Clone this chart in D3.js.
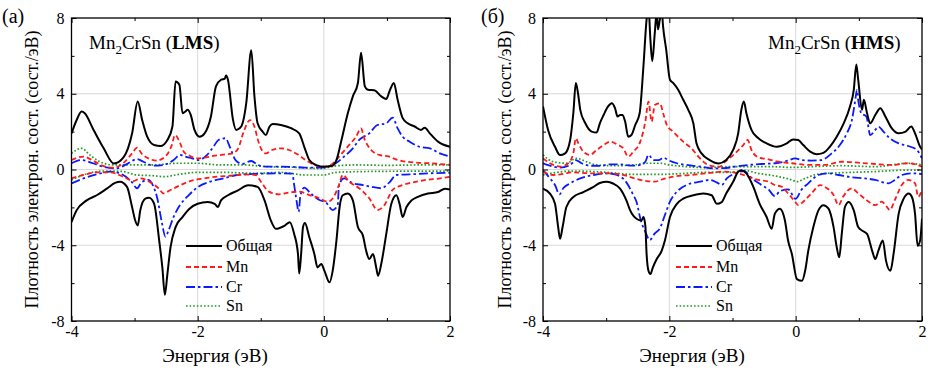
<!DOCTYPE html>
<html><head><meta charset="utf-8">
<script src="https://cdn.jsdelivr.net/npm/d3@7"></script>
<style>
html,body{margin:0;padding:0;background:#fff;}
svg text{font-family:'Liberation Serif','DejaVu Serif','Times New Roman',Times,serif;fill:#000;}
</style></head>
<body>
<script>
// ---------------- DATA ----------------
const xMajorTicks = [-4, -2, 0, 2];
const xMinorTicks = [-3, -1, 1];
const yMajorTicks = [-8, -4, 0, 4, 8];
const yMinorTicks = [-6, -2, 2, 6];
const seriesNames = ["Общая", "Mn", "Cr", "Sn"];
const panelLabels = ["(а)", "(б)"];
const panelPhases = ["LMS", "HMS"];

// Panel (a) LMS
const aTotUp = [[-4,1.9],[-3.92,2.6],[-3.84,3.06],[-3.79,2.97],[-3.65,2.09],[-3.49,1.12],[-3.33,0.32],[-3.17,0.67],[-3.04,1.9],[-2.95,3.59],[-2.88,2.62],[-2.8,1.73],[-2.69,1.29],[-2.59,1.24],[-2.48,1.56],[-2.4,2.27],[-2.35,4.65],[-2.29,4.48],[-2.24,2.97],[-2.2,3.05],[-2.16,3.15],[-2.11,2.88],[-2.05,2.09],[-1.97,1.73],[-1.89,1.91],[-1.79,2.8],[-1.71,4.39],[-1.63,4.74],[-1.57,4.8],[-1.55,4.96],[-1.52,4.74],[-1.44,2.62],[-1.39,2.09],[-1.31,2.27],[-1.23,3.5],[-1.15,6.3],[-1.10,3.86],[-1.05,2.44],[-0.97,2.0],[-0.92,1.82],[-0.86,2.27],[-0.81,2.4],[-0.68,2.35],[-0.52,2.18],[-0.39,1.91],[-0.31,1.2],[-0.23,0.5],[-0.12,0.23],[0.01,0.14],[0.12,0.18],[0.2,0.5],[0.28,1.56],[0.38,2.97],[0.46,3.86],[0.54,4.57],[0.59,6.16],[0.65,4.39],[0.7,4.21],[0.8,4.18],[0.91,3.86],[0.99,3.72],[1.04,4.12],[1.11,4.57],[1.17,3.68],[1.25,2.71],[1.33,2.44],[1.44,2.27],[1.54,2.09],[1.6,2.21],[1.68,1.91],[1.81,1.47],[2.0,1.2]];
const aTotDn = [[-4,-2.78],[-3.92,-2.16],[-3.76,-1.63],[-3.6,-1.36],[-3.44,-1.01],[-3.31,-0.71],[-3.23,-0.65],[-3.12,-0.92],[-3.04,-1.98],[-2.99,-2.69],[-2.95,-2.96],[-2.91,-2.16],[-2.83,-1.54],[-2.77,-1.49],[-2.69,-1.81],[-2.61,-3.75],[-2.56,-5.17],[-2.52,-6.62],[-2.48,-5.52],[-2.43,-4.1],[-2.35,-3.04],[-2.24,-2.51],[-2.13,-2.07],[-2.0,-1.81],[-1.84,-1.72],[-1.73,-1.81],[-1.68,-1.98],[-1.63,-1.63],[-1.52,-1.36],[-1.36,-1.1],[-1.2,-0.83],[-1.05,-0.92],[-0.94,-1.63],[-0.84,-2.69],[-0.76,-3.13],[-0.62,-2.96],[-0.54,-2.78],[-0.47,-3.4],[-0.41,-4.46],[-0.39,-5.49],[-0.36,-4.46],[-0.33,-3.04],[-0.3,-2.83],[-0.23,-3.58],[-0.15,-4.46],[-0.1,-5.17],[-0.04,-4.99],[0.01,-5.35],[0.09,-5.96],[0.14,-5.35],[0.2,-3.75],[0.25,-1.98],[0.3,-1.36],[0.38,-1.27],[0.46,-1.63],[0.54,-3.04],[0.62,-3.49],[0.67,-4.28],[0.72,-4.73],[0.78,-4.46],[0.83,-5.17],[0.86,-5.61],[0.91,-4.99],[0.99,-3.4],[1.07,-1.81],[1.15,-1.36],[1.2,-1.81],[1.25,-2.51],[1.31,-1.98],[1.39,-1.63],[1.49,-1.45],[1.65,-1.27],[1.81,-1.19],[1.92,-1.01],[2.0,-1.06]];
const aMnUp = [[-4,0.5],[-3.81,0.68],[-3.66,0.47],[-3.5,0.19],[-3.34,0.1],[-3.18,0.33],[-3.04,0.85],[-2.96,1.15],[-2.89,0.85],[-2.75,0.54],[-2.65,0.47],[-2.49,0.77],[-2.41,1.29],[-2.36,1.82],[-2.3,1.56],[-2.22,0.94],[-2.12,0.71],[-2.01,0.59],[-1.9,0.62],[-1.75,0.72],[-1.6,0.78],[-1.45,0.85],[-1.36,1.1],[-1.27,2.0],[-1.17,2.61],[-1.11,2.35],[-1.03,1.4],[-0.98,1.0],[-0.92,0.85],[-0.82,1.03],[-0.68,1.12],[-0.55,1.03],[-0.42,0.8],[-0.29,0.5],[-0.15,0.24],[-0.02,0.15],[0.11,0.24],[0.24,0.68],[0.4,1.29],[0.51,1.73],[0.59,2.17],[0.64,1.65],[0.75,1.03],[0.88,0.77],[1.04,0.68],[1.17,0.5],[1.31,0.41],[1.46,0.36],[1.68,0.33],[2.0,0.24]];
const aCrUp = [[-4,0.33],[-3.84,0.5],[-3.66,0.33],[-3.5,0.15],[-3.29,0.06],[-3.13,0.27],[-2.96,0.55],[-2.86,0.41],[-2.7,0.2],[-2.54,0.24],[-2.38,0.5],[-2.28,0.77],[-2.2,0.68],[-2.09,0.59],[-1.99,0.5],[-1.85,0.77],[-1.75,1.2],[-1.67,1.56],[-1.56,1.65],[-1.49,1.2],[-1.4,0.5],[-1.29,0.3],[-1.15,0.45],[-1.05,0.25],[-0.9,0.15],[-0.7,0.15],[-0.5,0.14],[-0.3,0.1],[-0.05,0.1],[0.19,0.33],[0.32,0.68],[0.46,1.12],[0.56,1.56],[0.72,1.91],[0.85,2.35],[0.99,2.44],[1.09,2.74],[1.17,2.17],[1.25,1.73],[1.36,1.47],[1.52,1.2],[1.68,1.12],[1.84,0.85],[2.0,0.68]];
const aSnUp = [[-4,0.85],[-3.84,1.12],[-3.71,0.77],[-3.55,0.41],[-3.34,0.24],[-3.07,0.24],[-2.7,0.24],[-2.33,0.33],[-2.01,0.33],[-1.64,0.24],[-1.27,0.24],[-0.9,0.15],[-0.5,0.12],[-0.05,0.05],[0.19,0.19],[0.5,0.24],[1.0,0.22],[1.5,0.24],[2.0,0.24]];
const aMnDn = [[-4,-0.47],[-3.81,-0.29],[-3.6,-0.15],[-3.39,-0.15],[-3.18,-0.38],[-3.02,-0.61],[-2.91,-0.47],[-2.75,-0.68],[-2.62,-0.99],[-2.54,-1.26],[-2.43,-1.08],[-2.27,-0.82],[-2.12,-0.61],[-1.9,-0.47],[-1.69,-0.38],[-1.48,-0.33],[-1.27,-0.26],[-1.08,-0.29],[-0.98,-0.73],[-0.87,-1.17],[-0.71,-1.31],[-0.55,-1.21],[-0.39,-1.17],[-0.23,-1.35],[-0.07,-1.52],[0.06,-1.7],[0.16,-1.43],[0.24,-0.82],[0.3,-0.29],[0.4,-0.64],[0.56,-0.99],[0.72,-1.52],[0.85,-2.14],[0.96,-1.88],[1.09,-1.08],[1.25,-0.82],[1.41,-0.68],[1.62,-0.55],[1.84,-0.47],[2.0,-0.38]];
const aCrDn = [[-4,-0.73],[-3.81,-0.47],[-3.6,-0.26],[-3.39,-0.11],[-3.18,-0.29],[-3.04,-0.68],[-2.96,-0.99],[-2.89,-0.68],[-2.78,-0.55],[-2.7,-0.91],[-2.64,-1.52],[-2.57,-2.76],[-2.51,-3.55],[-2.46,-3.2],[-2.38,-2.49],[-2.28,-1.88],[-2.14,-1.35],[-1.99,-0.91],[-1.8,-0.64],[-1.59,-0.47],[-1.38,-0.29],[-1.17,-0.24],[-1.0,-0.22],[-0.75,-0.2],[-0.5,-0.22],[-0.47,-0.82],[-0.43,-1.7],[-0.4,-2.23],[-0.37,-1.35],[-0.31,-0.96],[-0.21,-1.26],[-0.07,-1.61],[0.03,-1.73],[0.14,-2.14],[0.22,-1.88],[0.24,-0.82],[0.32,-0.47],[0.46,-0.73],[0.62,-0.82],[0.75,-0.91],[0.91,-0.99],[1.04,-0.68],[1.15,-0.29],[1.36,-0.26],[1.68,-0.2],[2.0,-0.17]];
const aSnDn = [[-4,-0.55],[-3.81,-0.29],[-3.5,-0.08],[-3.2,-0.1],[-2.96,-0.29],[-2.7,-0.33],[-2.54,-0.38],[-2.3,-0.26],[-2.01,-0.15],[-1.6,-0.15],[-1.05,-0.2],[-0.7,-0.15],[-0.29,-0.29],[0.0,-0.29],[0.19,-0.15],[0.6,-0.11],[1.2,-0.09],[2.0,-0.08]];

// Panel (b) HMS
const bTotUp = [[-4,3.33],[-3.92,2.09],[-3.81,1.2],[-3.73,0.76],[-3.65,0.85],[-3.57,1.56],[-3.52,2.97],[-3.48,4.57],[-3.45,4.12],[-3.41,3.15],[-3.33,2.44],[-3.23,2.0],[-3.15,1.95],[-3.1,2.44],[-3.04,2.88],[-2.97,3.33],[-2.91,3.5],[-2.86,3.24],[-2.82,2.8],[-2.78,2.88],[-2.74,2.88],[-2.7,2.53],[-2.65,1.73],[-2.6,1.82],[-2.54,2.35],[-2.47,2.97],[-2.41,5.45],[-2.36,7.93],[-2.33,8.6],[-2.3,6.87],[-2.27,5.72],[-2.23,7.22],[-2.2,8.3],[-2.18,7.4],[-2.15,7.93],[-2.12,8.4],[-2.1,7.58],[-2.05,6.34],[-1.99,4.74],[-1.94,4.57],[-1.86,4.21],[-1.78,3.68],[-1.7,3.15],[-1.62,2.44],[-1.57,1.38],[-1.49,0.85],[-1.36,0.5],[-1.22,0.32],[-1.1,0.5],[-0.99,1.03],[-0.91,1.91],[-0.86,3.15],[-0.82,3.59],[-0.78,2.97],[-0.7,2.09],[-0.59,1.65],[-0.46,1.38],[-0.3,1.2],[-0.14,1.38],[-0.04,1.59],[0.04,1.56],[0.12,1.29],[0.23,0.94],[0.33,0.81],[0.44,0.88],[0.54,1.2],[0.65,1.73],[0.76,2.44],[0.86,3.33],[0.92,4.21],[0.96,5.54],[0.99,4.74],[1.05,3.15],[1.08,3.68],[1.13,2.97],[1.18,2.44],[1.26,2.88],[1.34,3.24],[1.42,2.8],[1.52,2.18],[1.63,1.91],[1.74,2.0],[1.83,2.27],[1.89,1.91],[1.97,1.2],[2.0,1.06]];
const bTotDn = [[-4,-1.01],[-3.89,-1.27],[-3.81,-1.81],[-3.76,-3.04],[-3.73,-3.66],[-3.69,-3.04],[-3.63,-1.98],[-3.52,-1.45],[-3.36,-1.19],[-3.2,-0.92],[-3.1,-0.71],[-2.99,-0.65],[-2.89,-0.74],[-2.78,-1.01],[-2.68,-1.63],[-2.62,-2.16],[-2.52,-2.6],[-2.44,-2.69],[-2.41,-2.51],[-2.38,-2.96],[-2.36,-4.46],[-2.33,-5.35],[-2.3,-5.52],[-2.26,-5.17],[-2.2,-4.73],[-2.12,-4.28],[-2.07,-3.75],[-1.99,-2.51],[-1.88,-1.81],[-1.78,-1.54],[-1.62,-1.36],[-1.46,-1.27],[-1.33,-1.36],[-1.25,-1.81],[-1.17,-1.72],[-1.1,-1.27],[-0.99,-0.65],[-0.91,-0.12],[-0.86,-0.04],[-0.78,-0.21],[-0.67,-0.92],[-0.57,-1.81],[-0.46,-2.51],[-0.38,-3.13],[-0.33,-2.34],[-0.25,-2.07],[-0.17,-2.69],[-0.12,-3.75],[-0.06,-4.46],[0.02,-5.79],[0.1,-5.88],[0.15,-5.35],[0.2,-4.28],[0.28,-3.04],[0.36,-2.16],[0.44,-1.89],[0.52,-2.07],[0.6,-3.04],[0.65,-4.1],[0.69,-4.64],[0.73,-3.4],[0.78,-1.98],[0.84,-1.72],[0.92,-2.16],[0.99,-3.04],[1.05,-3.22],[1.13,-3.4],[1.21,-4.28],[1.26,-4.73],[1.31,-4.28],[1.38,-3.75],[1.43,-4.81],[1.5,-5.35],[1.55,-4.46],[1.63,-2.34],[1.71,-1.54],[1.79,-1.27],[1.84,-1.45],[1.89,-2.34],[1.93,-4.02],[1.97,-3.75],[2.0,-2.6]];
const bMnUp = [[-4,0.59],[-3.89,0.33],[-3.73,0.15],[-3.6,0.33],[-3.52,0.85],[-3.48,1.65],[-3.44,1.38],[-3.36,0.94],[-3.26,0.77],[-3.15,1.03],[-3.04,1.29],[-2.94,1.47],[-2.83,1.33],[-2.73,1.12],[-2.65,0.68],[-2.57,0.94],[-2.46,1.47],[-2.38,2.53],[-2.33,3.58],[-2.28,2.53],[-2.23,3.4],[-2.15,3.49],[-2.09,2.88],[-2.04,2.35],[-1.94,2.0],[-1.78,1.47],[-1.65,1.12],[-1.54,0.68],[-1.46,0.41],[-1.36,0.2],[-1.2,0.15],[-1.12,0.4],[-0.96,0.85],[-0.83,1.29],[-0.76,1.56],[-0.7,1.03],[-0.59,0.64],[-0.43,0.54],[-0.27,0.41],[-0.06,0.33],[0.2,0.24],[0.46,0.24],[0.73,0.41],[0.99,0.36],[1.26,0.29],[1.52,0.24],[1.78,0.33],[2.0,0.15]];
const bCrUp = [[-4,0.33],[-3.89,0.2],[-3.73,0.1],[-3.57,0.24],[-3.48,0.5],[-3.39,0.33],[-3.26,0.2],[-3.1,0.19],[-2.94,0.27],[-2.78,0.27],[-2.62,0.2],[-2.46,0.24],[-2.38,0.41],[-2.33,0.77],[-2.25,0.5],[-2.17,0.5],[-2.09,0.62],[-2.02,0.5],[-1.88,0.33],[-1.73,0.24],[-1.51,0.15],[-1.3,0.06],[-1.1,0.08],[-0.91,0.18],[-0.75,0.24],[-0.54,0.29],[-0.33,0.33],[-0.12,0.47],[-0.01,0.59],[0.09,0.5],[0.25,0.47],[0.41,0.5],[0.57,0.85],[0.7,1.29],[0.81,1.91],[0.89,2.61],[0.94,3.58],[0.97,4.2],[0.99,3.67],[1.04,2.97],[1.12,2.79],[1.18,1.82],[1.26,2.09],[1.31,2.26],[1.39,2.0],[1.49,1.65],[1.63,1.38],[1.78,1.24],[1.92,1.03],[2.0,0.59]];
const bSnUp = [[-4,0.77],[-3.84,0.41],[-3.63,0.33],[-3.47,0.59],[-3.31,0.41],[-3.15,0.24],[-2.89,0.2],[-2.57,0.24],[-2.36,0.33],[-2.15,0.33],[-1.99,0.24],[-1.73,0.15],[-1.41,0.1],[-1.0,0.15],[-0.4,0.15],[-0.06,0.11],[0.25,0.15],[0.73,0.2],[1.26,0.15],[1.78,0.33],[2.0,0.24]];
const bMnDn = [[-4,-0.11],[-3.84,-0.29],[-3.73,-0.26],[-3.52,-0.15],[-3.26,-0.2],[-2.99,-0.2],[-2.73,-0.29],[-2.52,-0.5],[-2.36,-0.61],[-2.23,-0.64],[-2.09,-0.5],[-1.94,-0.38],[-1.67,-0.29],[-1.41,-0.2],[-1.12,-0.11],[-0.91,-0.2],[-0.75,-0.38],[-0.59,-0.55],[-0.43,-0.64],[-0.33,-0.82],[-0.22,-0.91],[-0.12,-1.26],[-0.01,-1.7],[0.04,-1.88],[0.12,-1.7],[0.25,-1.26],[0.39,-0.82],[0.46,-0.91],[0.6,-1.35],[0.68,-1.88],[0.75,-1.44],[0.89,-1.0],[0.99,-1.26],[1.12,-1.61],[1.26,-1.88],[1.36,-1.7],[1.44,-1.96],[1.49,-2.14],[1.57,-1.61],[1.68,-0.82],[1.78,-0.55],[1.89,-0.73],[1.94,-1.44],[2.0,-1.08]];
const bCrDn = [[-4,-0.03],[-3.89,-0.47],[-3.81,-0.82],[-3.74,-1.31],[-3.68,-0.99],[-3.57,-0.73],[-3.41,-0.47],[-3.2,-0.29],[-2.99,-0.2],[-2.83,-0.29],[-2.68,-0.68],[-2.57,-1.35],[-2.52,-1.7],[-2.46,-2.58],[-2.38,-3.29],[-2.31,-3.72],[-2.23,-3.37],[-2.15,-3.11],[-2.07,-2.4],[-1.99,-1.7],[-1.88,-1.17],[-1.73,-0.82],[-1.51,-0.64],[-1.36,-0.55],[-1.25,-0.68],[-1.17,-0.82],[-1.09,-0.47],[-0.95,-0.2],[-0.82,-0.08],[-0.7,-0.45],[-0.55,-0.8],[-0.43,-1.05],[-0.33,-1.4],[-0.25,-1.15],[-0.12,-1.05],[0.0,-1.55],[0.09,-1.08],[0.2,-0.73],[0.36,-0.29],[0.52,-0.2],[0.68,-0.29],[0.89,-0.41],[1.1,-0.47],[1.26,-0.55],[1.47,-0.73],[1.57,-0.55],[1.68,-0.29],[1.84,-0.2],[2.0,-0.24]];
const bSnDn = [[-4,-0.29],[-3.78,-0.15],[-3.52,-0.08],[-2.99,-0.15],[-2.57,-0.26],[-2.2,-0.26],[-1.83,-0.22],[-1.41,-0.15],[-1.04,-0.15],[-0.8,-0.05],[-0.6,-0.2],[-0.33,-0.34],[-0.06,-0.55],[0.02,-0.64],[0.15,-0.47],[0.36,-0.24],[0.73,-0.17],[1.26,-0.11],[1.78,-0.03],[2.0,-0.03]];

// ---------------- STYLES ----------------
const styles = [
  {color:"#000000", width:2.0, dash:null},
  {color:"#ff1a1a", width:1.8, dash:"5,3"},
  {color:"#0a1aff", width:1.8, dash:"9,3,2.5,3"},
  {color:"#1f9a1f", width:1.7, dash:"1.6,2"}
];
const FONT = "'Liberation Serif','DejaVu Serif','Times New Roman',Times,serif";

const W = 945, H = 378;
const svg = d3.select("body").append("svg").attr("width", W).attr("height", H)
  .style("font-family", FONT);

const panels = [
  {left:71.5, right:450, label:panelLabels[0], labelX:2, phase:panelPhases[0], titleX:89, yTitleX:38, xTitleX:215, legendX:186,
   data:[[aTotUp,aTotDn],[aMnUp,aMnDn],[aCrUp,aCrDn],[aSnUp,aSnDn]]},
  {left:543, right:922, label:panelLabels[1], labelX:481, phase:panelPhases[1], titleX:768, yTitleX:511, xTitleX:692, legendX:676,
   data:[[bTotUp,bTotDn],[bMnUp,bMnDn],[bCrUp,bCrDn],[bSnUp,bSnDn]]}
];
const TOP = 18, BOTTOM = 321;

panels.forEach((p, pi) => {
  const x = d3.scaleLinear().domain([-4, 2]).range([p.left, p.right]);
  const y = d3.scaleLinear().domain([-8, 8]).range([BOTTOM, TOP]);
  const g = svg.append("g");

  // grid
  g.append("g").selectAll("line").data([-2, 0]).join("line")
    .attr("x1", d => x(d)).attr("x2", d => x(d)).attr("y1", TOP).attr("y2", BOTTOM)
    .attr("stroke", "#cfcfcf").attr("stroke-width", 0.8);
  g.append("g").selectAll("line").data([-4, 0, 4]).join("line")
    .attr("x1", p.left).attr("x2", p.right).attr("y1", d => y(d)).attr("y2", d => y(d))
    .attr("stroke", "#cfcfcf").attr("stroke-width", 0.8);

  // clip
  const cid = "clip" + pi;
  svg.append("clipPath").attr("id", cid).append("rect")
    .attr("x", p.left).attr("y", TOP).attr("width", p.right - p.left).attr("height", BOTTOM - TOP);

  const line = d3.line().x(d => x(d[0])).y(d => y(d[1])).curve(d3.curveMonotoneX);
  const lg = g.append("g").attr("clip-path", `url(#${cid})`);
  [3, 2, 1, 0].forEach(si => {
    const st = styles[si];
    p.data[si].forEach(arr => {
      lg.append("path").datum(arr).attr("d", line)
        .attr("fill", "none").attr("stroke", st.color).attr("stroke-width", st.width)
        .attr("stroke-dasharray", st.dash).attr("stroke-linejoin", "round");
    });
  });

  // axes
  const axB = g.append("g").attr("transform", `translate(0,${BOTTOM})`)
    .call(d3.axisBottom(x).tickValues(xMajorTicks).tickSize(-5).tickSizeOuter(0).tickPadding(5).tickFormat(d => String(d)));
  g.append("g").attr("transform", `translate(0,${BOTTOM})`)
    .call(d3.axisBottom(x).tickValues(xMinorTicks).tickSize(-3).tickSizeOuter(0).tickFormat(""));
  g.append("g").attr("transform", `translate(0,${TOP})`)
    .call(d3.axisTop(x).tickValues(xMajorTicks).tickSize(-5).tickSizeOuter(0).tickFormat(""));
  g.append("g").attr("transform", `translate(0,${TOP})`)
    .call(d3.axisTop(x).tickValues(xMinorTicks).tickSize(-3).tickSizeOuter(0).tickFormat(""));
  const axL = g.append("g").attr("transform", `translate(${p.left},0)`)
    .call(d3.axisLeft(y).tickValues(yMajorTicks).tickSize(-5).tickSizeOuter(0).tickPadding(7).tickFormat(d => String(d)));
  g.append("g").attr("transform", `translate(${p.left},0)`)
    .call(d3.axisLeft(y).tickValues(yMinorTicks).tickSize(-3).tickSizeOuter(0).tickFormat(""));
  g.append("g").attr("transform", `translate(${p.right},0)`)
    .call(d3.axisRight(y).tickValues(yMajorTicks).tickSize(-5).tickSizeOuter(0).tickFormat(""));
  g.append("g").attr("transform", `translate(${p.right},0)`)
    .call(d3.axisRight(y).tickValues(yMinorTicks).tickSize(-3).tickSizeOuter(0).tickFormat(""));
  g.selectAll(".domain").remove();
  g.selectAll("g").attr("font-family", null);
  g.selectAll(".tick line").attr("stroke", "#000").attr("stroke-width", 1);
  [axB, axL].forEach(a => a.selectAll("text").style("font-family", FONT).attr("font-size", 16).attr("fill", "#000"));

  // frame
  g.append("rect").attr("x", p.left).attr("y", TOP).attr("width", p.right - p.left).attr("height", BOTTOM - TOP)
    .attr("fill", "none").attr("stroke", "#000").attr("stroke-width", 1.3);

  // title Mn2CrSn (LMS)
  const t = g.append("text").attr("x", p.titleX).attr("y", 49).attr("font-size", 19).style("font-family", FONT);
  t.append("tspan").text("Mn");
  t.append("tspan").attr("font-size", 13).attr("dy", 5).text("2");
  t.append("tspan").attr("dy", -5).text("CrSn (");
  t.append("tspan").attr("font-weight", "bold").text(p.phase);
  t.append("tspan").text(")");

  // panel label
  g.append("text").attr("x", p.labelX).attr("y", 23).attr("font-size", 20).style("font-family", FONT).text(p.label);

  // axis titles
  g.append("text").attr("transform", `translate(${p.yTitleX},${(TOP + BOTTOM) / 2}) rotate(-90)`)
    .attr("text-anchor", "middle").attr("font-size", 18).style("font-family", FONT)
    .text("Плотность электрон. сост. (сост./эВ)");
  g.append("text").attr("x", p.xTitleX).attr("y", 362).attr("text-anchor", "middle")
    .attr("font-size", 19).style("font-family", FONT).text("Энергия (эВ)");

  // legend
  const legY = [246, 267, 287, 306];
  seriesNames.forEach((nm, i) => {
    const st = styles[i];
    g.append("line").attr("x1", p.legendX).attr("x2", p.legendX + 36).attr("y1", legY[i]).attr("y2", legY[i])
      .attr("stroke", st.color).attr("stroke-width", st.width).attr("stroke-dasharray", st.dash);
    g.append("text").attr("x", p.legendX + 40).attr("y", legY[i] + 5).attr("font-size", 16)
      .style("font-family", FONT).text(nm);
  });
});
</script>
</body></html>
